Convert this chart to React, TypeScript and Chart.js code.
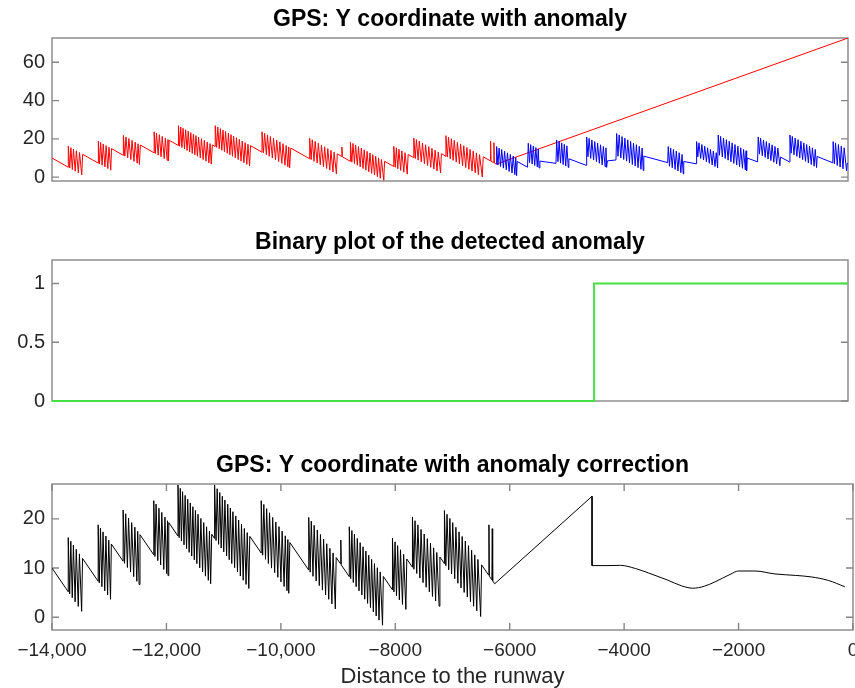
import React, { useEffect, useRef } from "react";
import { Chart, registerables } from "chart.js";

Chart.register(...registerables);

// ---------- data ----------
// GPS Y coordinate (sawtooth with jump clusters), distance in m
const gpsX = [
  -14000,
  -13716, -13716, -13691, -13671, -13646, -13626, -13596, -13576, -13541, -13521, -13482, -13466,
  -13193, -13193, -13173, -13153, -13128, -13108, -13078, -13058, -13028, -13008, -12977, -12963,
  -12757, -12757, -12732, -12712, -12682, -12662, -12627, -12607, -12572, -12552, -12517, -12502, -12478, -12462,
  -12221, -12221, -12201, -12181, -12151, -12131, -12101, -12081, -12046, -12026, -11996, -11981, -11972, -11959,
  -11798, -11798, -11778, -11758, -11738, -11718, -11693, -11673, -11648, -11628, -11603, -11583, -11558, -11538, -11513, -11493, -11468, -11448, -11418, -11398, -11368, -11348, -11318, -11298, -11268, -11248, -11227, -11208,
  -11158, -11158, -11133, -11113, -11088, -11068, -11043, -11023, -10998, -10978, -10948, -10928, -10903, -10883, -10858, -10838, -10808, -10788, -10758, -10738, -10708, -10688, -10658, -10638, -10608, -10588, -10560, -10543,
  -10343, -10343, -10318, -10298, -10268, -10248, -10218, -10198, -10163, -10143, -10108, -10088, -10053, -10033, -9998, -9978, -9943, -9923, -9893, -9878, -9862, -9843,
  -9513, -9513, -9488, -9468, -9438, -9418, -9383, -9363, -9328, -9308, -9273, -9253, -9218, -9198, -9163, -9143, -9108, -9088, -9048, -9033, -8960, -8952, -8944,
  -8804, -8804, -8779, -8759, -8734, -8714, -8684, -8664, -8634, -8614, -8584, -8564, -8534, -8514, -8484, -8464, -8434, -8414, -8384, -8364, -8334, -8314, -8284, -8264, -8223, -8209,
  -8049, -8049, -8024, -8004, -7979, -7959, -7929, -7909, -7874, -7854, -7815, -7799,
  -7700, -7700, -7675, -7655, -7625, -7605, -7570, -7550, -7515, -7495, -7460, -7440, -7405, -7385, -7350, -7330, -7295, -7275, -7234, -7220,
  -7141, -7141, -7116, -7096, -7066, -7046, -7016, -6996, -6961, -6941, -6906, -6886, -6851, -6831, -6796, -6776, -6741, -6721, -6686, -6666, -6631, -6611, -6576, -6556, -6508, -6491, -6370, -6363, -6356, -6312, -6305, -6298, -6263,
];
const gpsY = [
  10.0,
  5.17, 16.2, 4.75, 15.44, 3.98, 14.67, 3.13, 13.82, 2.2, 12.89, 1.19, 11.95,
  7.31, 18.8, 6.97, 18.12, 6.21, 17.36, 5.36, 16.51, 4.51, 15.66, 3.64, 14.89,
  11.39, 21.8, 10.97, 21.04, 10.12, 20.19, 9.18, 19.25, 8.25, 18.32, 7.31, 17.47, 6.65, 16.79,
  12.69, 23.7, 12.35, 23.02, 11.5, 22.17, 10.65, 21.32, 9.72, 20.39, 8.87, 19.62, 8.46, 19.25,
  16.51, 26.9, 16.17, 26.22, 15.49, 25.54, 14.73, 24.78, 13.96, 24.01, 13.2, 23.25, 12.43, 22.48, 11.67, 21.72, 10.9, 20.95, 10.05, 20.1, 9.2, 19.25, 8.35, 18.4, 7.5, 17.55, 6.8, 16.87,
  16.02, 26.9, 15.6, 26.14, 14.83, 25.37, 14.07, 24.61, 13.3, 23.84, 12.45, 22.99, 11.69, 22.23, 10.92, 21.46, 10.07, 20.61, 9.22, 19.76, 8.37, 18.91, 7.52, 18.06, 6.67, 17.21, 5.85, 16.45,
  13.05, 23.7, 12.63, 22.94, 11.78, 22.09, 10.93, 21.24, 9.99, 20.3, 9.06, 19.37, 8.12, 18.43, 7.19, 17.5, 6.25, 16.56, 5.4, 15.8, 4.87, 15.2,
  9.59, 20.3, 9.17, 19.54, 8.32, 18.69, 7.38, 17.75, 6.44, 16.82, 5.51, 15.88, 4.57, 14.95, 3.64, 14.01, 2.71, 13.08, 1.69, 12.14, 10.9, 15.7, 10.63,
  8.25, 18.4, 7.83, 17.64, 7.06, 16.87, 6.21, 16.02, 5.36, 15.17, 4.51, 14.32, 3.66, 13.47, 2.81, 12.62, 1.96, 11.77, 1.11, 10.92, 0.26, 10.07, -0.59, 9.22, -1.63, 8.29,
  5.57, 16.1, 5.15, 15.34, 4.38, 14.57, 3.53, 13.72, 2.6, 12.79, 1.59, 11.85,
  10.17, 20.4, 9.75, 19.64, 8.9, 18.79, 7.96, 17.85, 7.03, 16.92, 6.09, 15.98, 5.16, 15.05, 4.22, 14.11, 3.29, 13.18, 2.25, 12.24,
  10.9, 21.7, 10.48, 20.94, 9.63, 20.09, 8.78, 19.24, 7.84, 18.3, 6.91, 17.37, 5.97, 16.43, 5.04, 15.5, 4.1, 14.56, 3.17, 13.63, 2.23, 12.69, 1.3, 11.76, 0.14, 10.65, 8.59, 18.8, 8.35, 7.61, 18.0, 7.37, 6.8,
];

// true GPS signal after the anomaly starts (blue)
const trueX = [
  -6263,
  -6258, -6235, -6215, -6190, -6170, -6140, -6120, -6090, -6070, -6040, -6020, -5990, -5970, -5940, -5925, -5910,
  -5900, -5720,
  -5707, -5685, -5665, -5640, -5620, -5595, -5575, -5550, -5533, -5520,
  -5505, -5225,
  -5213, -5190, -5170, -5145, -5125, -5100, -5080, -5055, -5035, -5011,
  -5000, -4700,
  -4690, -4668, -4648, -4620, -4600, -4570, -4550, -4520, -4500, -4470, -4450, -4420, -4400, -4370, -4355, -4343,
  -4330, -4180,
  -4168, -4145, -4125, -4095, -4075, -4045, -4025, -3995, -3975, -3945, -3925, -3895, -3875, -3845, -3825, -3795, -3775, -3745, -3725, -3705,
  -3695, -3280,
  -3270, -3248, -3228, -3200, -3180, -3150, -3130, -3100, -3080, -3050, -3030, -3009,
  -3000, -2785,
  -2776, -2755, -2735, -2705, -2685, -2655, -2635, -2605, -2585, -2555, -2535, -2505, -2485, -2455, -2435, -2410,
  -2399, -2378, -2358, -2328, -2308, -2278, -2258, -2228, -2208, -2178, -2158, -2128, -2108, -2078, -2058, -2028, -2008, -1978, -1958, -1928, -1915, -1905,
  -1895, -1715,
  -1703, -1682, -1662, -1632, -1612, -1582, -1562, -1532, -1512, -1482, -1462, -1432, -1412, -1382, -1362, -1326,
  -1316, -1160,
  -1151, -1130, -1110, -1080, -1060, -1030, -1010, -980, -960, -930, -910, -880, -860, -830, -810, -780, -760, -730, -710, -687,
  -677, -405,
  -398, -377, -357, -327, -307, -277, -257, -227, -207, -166, -155, -140,
];
const trueY = [
  6.8,
  16.0, 6.32, 15.18, 5.56, 14.42, 4.71, 13.57, 3.86, 12.72, 3.01, 11.87, 2.16, 11.02, 1.31, 10.25, 0.8,
  8.2, 5.2,
  17.7, 7.63, 16.99, 6.86, 16.22, 6.1, 15.46, 5.33, 14.74, 4.82,
  8.4, 7.2,
  19.4, 8.11, 18.67, 7.34, 17.9, 6.58, 17.14, 5.81, 16.37, 5.07,
  9.6, 6.2,
  21.0, 10.63, 20.29, 9.81, 19.47, 8.96, 18.62, 8.11, 17.77, 7.26, 16.92, 6.41, 16.07, 5.56, 15.31, 5.1,
  8.5, 9.0,
  22.8, 10.91, 22.07, 10.06, 21.22, 9.21, 20.37, 8.36, 19.52, 7.51, 18.67, 6.66, 17.82, 5.81, 16.97, 4.96, 16.12, 4.11, 15.27, 3.43,
  11.0, 7.6,
  16.0, 5.73, 15.29, 4.91, 14.47, 4.06, 13.62, 3.21, 12.77, 2.36, 11.92, 1.66,
  8.2, 7.0,
  18.6, 10.64, 17.9, 9.79, 17.05, 8.94, 16.2, 8.09, 15.35, 7.24, 14.5, 6.39, 13.65, 5.54, 12.8, 4.78,
  22.0, 11.44, 21.3, 10.59, 20.45, 9.74, 19.6, 8.89, 18.75, 8.04, 17.9, 7.19, 17.05, 6.34, 16.2, 5.49, 15.35, 4.64, 14.5, 3.79, 13.77, 3.4,
  10.0, 8.0,
  21.0, 12.04, 20.3, 11.19, 19.45, 10.34, 18.6, 9.49, 17.75, 8.64, 16.9, 7.79, 16.05, 6.94, 15.2, 5.99,
  10.5, 8.0,
  22.0, 12.54, 21.3, 11.69, 20.45, 10.84, 19.6, 9.99, 18.75, 9.14, 17.9, 8.29, 17.05, 7.44, 16.2, 6.59, 15.35, 5.74, 14.5, 5.01,
  10.8, 7.5,
  18.6, 6.94, 17.9, 6.09, 17.05, 5.24, 16.2, 4.39, 15.35, 3.36, 7.2, 7.0,
];

// anomaly drift (red ramp)
const rampX = [-6263, -140];
const rampY = [6.8, 72.7];

// corrected signal after the sawtooth part
const corrLinX = [-6263, -4561, -4561];
const corrLinY = [6.8, 24.6, 10.5];
const corrX = [-4561, -4300, -4066, -3800, -3573, -3250, -3000, -2800, -2600, -2410, -2150, -2000, -1712, -1363, -1000, -730, -434, -143];
const corrY = [10.5, 10.5, 10.55, 9.9, 9.0, 7.6, 6.4, 5.9, 6.3, 7.2, 8.7, 9.4, 9.4, 8.8, 8.5, 8.2, 7.5, 6.2];

// binary detection flag
const flagX = [-14000, -4561, -4561, -140];
const flagY = [0, 0, 1, 1];

// ticks
const yTicks1 = [0, 20, 40, 60];
const yTickLabels1 = ["0", "20", "40", "60"];
const yTicks2 = [0, 0.5, 1];
const yTickLabels2 = ["0", "0.5", "1"];
const yTicks3 = [0, 10, 20];
const yTickLabels3 = ["0", "10", "20"];
const xTicks3 = [-14000, -12000, -10000, -8000, -6000, -4000, -2000, 0];
const xTickLabels3 = ["\u221214,000", "\u221212,000", "\u221210,000", "\u22128000", "\u22126000", "\u22124000", "\u22122000", "0"];

const titles = [
  "GPS: Y coordinate with anomaly",
  "Binary plot of the detected anomaly",
  "GPS: Y coordinate with anomaly correction",
];
const xAxisLabel = "Distance to the runway";

// ---------- helpers ----------
const FONT = '"Liberation Sans", Arial, Helvetica, sans-serif';
const TICK_COLOR = "#262626";
const AXIS_COLOR = "#868686";

function pts(xs: number[], ys: number[]) {
  const n = Math.min(xs.length, ys.length);
  const out: { x: number; y: number }[] = [];
  for (let i = 0; i < n; i++) out.push({ x: xs[i], y: ys[i] });
  return out;
}
function concat(...parts: { x: number; y: number }[][]) {
  return ([] as { x: number; y: number }[]).concat(...parts);
}

const boxPlugin = {
  id: "matlabBox",
  beforeDatasetsDraw(chart: any, _args: any, opts: any) {
    const { ctx, chartArea: a } = chart;
    ctx.save();
    ctx.strokeStyle = AXIS_COLOR;
    ctx.lineWidth = 1.4;
    ctx.strokeRect(a.left, a.top, a.right - a.left, a.bottom - a.top);
    const L = 7;
    const ys = chart.scales.y;
    ctx.beginPath();
    for (const v of opts.yTicks || []) {
      const py = ys.getPixelForValue(v);
      ctx.moveTo(a.left, py);
      ctx.lineTo(a.left + L, py);
      ctx.moveTo(a.right, py);
      ctx.lineTo(a.right - L, py);
    }
    if (opts.xTicks) {
      const xs = chart.scales.x;
      for (const v of opts.xTicks) {
        const px = xs.getPixelForValue(v);
        ctx.moveTo(px, a.bottom);
        ctx.lineTo(px, a.bottom - L);
        ctx.moveTo(px, a.top);
        ctx.lineTo(px, a.top + L);
      }
    }
    ctx.stroke();
    ctx.restore();
  },
  afterDraw(chart: any, _args: any, opts: any) {
    const { ctx, chartArea: a } = chart;
    ctx.save();
    ctx.font = `bold ${opts.titleSize}px ${FONT}`;
    ctx.fillStyle = "#000000";
    ctx.textAlign = "center";
    ctx.textBaseline = "middle";
    ctx.fillText(opts.title, (a.left + a.right) / 2, opts.titleY);
    ctx.restore();
  },
};

function yScale(min: number, max: number, ticks: number[], labels: string[]) {
  return {
    type: "linear",
    min,
    max,
    afterBuildTicks: (s: any) => {
      s.ticks = ticks.map((v) => ({ value: v }));
    },
    afterFit: (s: any) => {
      s.width = 52;
    },
    grid: { display: false, drawTicks: false },
    border: { display: false },
    ticks: {
      color: TICK_COLOR,
      font: { family: FONT, size: 20 },
      padding: 7,
      autoSkip: false,
      callback: (_v: any, i: number) => labels[i],
    },
  };
}

function useChart(ref: React.RefObject<HTMLCanvasElement>, build: () => any) {
  useEffect(() => {
    if (!ref.current) return;
    const chart = new Chart(ref.current, build());
    return () => chart.destroy();
  }, []);
}

const baseOpts = {
  animation: false,
  responsive: false,
  maintainAspectRatio: false,
  devicePixelRatio: 1,
  events: [],
  elements: { point: { radius: 0 }, line: { borderWidth: 1, tension: 0 } },
};

const TITLE_SIZE = 23;

export default function App() {
  const c1 = useRef<HTMLCanvasElement>(null);
  const c2 = useRef<HTMLCanvasElement>(null);
  const c3 = useRef<HTMLCanvasElement>(null);

  useChart(c1, () => ({
    type: "line",
    data: {
      datasets: [
        { data: pts(trueX, trueY), borderColor: "#0000ff", borderWidth: 1, pointRadius: 0 },
        { data: concat(pts(gpsX, gpsY), pts(rampX, rampY)), borderColor: "#ff0000", borderWidth: 1, pointRadius: 0 },
      ],
    },
    options: {
      ...baseOpts,
      layout: { padding: { left: 0, right: 52, top: 38, bottom: 14 } },
      plugins: {
        legend: { display: false },
        tooltip: { enabled: false },
        matlabBox: { yTicks: yTicks1, title: titles[0], titleY: 20, titleSize: TITLE_SIZE },
      },
      scales: {
        x: { type: "linear", min: -14000, max: -140, display: false },
        y: yScale(-2, 72.7, yTicks1, yTickLabels1),
      },
    },
    plugins: [boxPlugin],
  }));

  useChart(c2, () => ({
    type: "line",
    data: {
      datasets: [
        { data: pts(flagX, flagY), borderColor: "#44e044", borderWidth: 2, pointRadius: 0, clip: 4 },
      ],
    },
    options: {
      ...baseOpts,
      layout: { padding: { left: 0, right: 52, top: 40, bottom: 12 } },
      plugins: {
        legend: { display: false },
        tooltip: { enabled: false },
        matlabBox: { yTicks: yTicks2, title: titles[1], titleY: 23, titleSize: TITLE_SIZE },
      },
      scales: {
        x: { type: "linear", min: -14000, max: -140, display: false },
        y: yScale(0, 1.2, yTicks2, yTickLabels2),
      },
    },
    plugins: [boxPlugin],
  }));

  useChart(c3, () => ({
    type: "line",
    data: {
      datasets: [
        { data: concat(pts(gpsX, gpsY), pts(corrLinX, corrLinY)), borderColor: "#000000", borderWidth: 1, pointRadius: 0 },
        { data: pts(corrX, corrY), borderColor: "#000000", borderWidth: 1, pointRadius: 0, cubicInterpolationMode: "monotone" },
      ],
    },
    options: {
      ...baseOpts,
      layout: { padding: { left: 0, right: 47, top: 44, bottom: 0 } },
      plugins: {
        legend: { display: false },
        tooltip: { enabled: false },
        matlabBox: { yTicks: yTicks3, xTicks: xTicks3, title: titles[2], titleY: 26, titleSize: TITLE_SIZE },
      },
      scales: {
        x: {
          type: "linear",
          min: -14000,
          max: 0,
          afterBuildTicks: (s: any) => {
            s.ticks = xTicks3.map((v) => ({ value: v }));
          },
          afterFit: (s: any) => {
            s.height = 58;
          },
          grid: { display: false, drawTicks: false },
          border: { display: false },
          ticks: {
            color: TICK_COLOR,
            font: { family: FONT, size: 19 },
            padding: 9,
            maxRotation: 0,
            autoSkip: false,
            callback: (_v: any, i: number) => xTickLabels3[i],
          },
          title: {
            display: true,
            text: xAxisLabel,
            color: TICK_COLOR,
            font: { family: FONT, size: 22, lineHeight: 1 },
            padding: { top: 0, bottom: 0 },
          },
        },
        y: yScale(-2.6, 27.1, yTicks3, yTickLabels3),
      },
    },
    plugins: [boxPlugin],
  }));

  const cv = (top: number, h: number): React.CSSProperties => ({
    position: "absolute",
    left: 0,
    top,
    width: 900,
    height: h,
  });

  return (
    <div
      style={{
        position: "fixed",
        left: 0,
        top: 0,
        width: 855,
        height: 688,
        overflow: "hidden",
        background: "#ffffff",
      }}
    >
      <canvas ref={c1} width={900} height={200} style={cv(0, 200)} />
      <canvas ref={c2} width={900} height={200} style={cv(220, 200)} />
      <canvas ref={c3} width={900} height={248} style={cv(440, 248)} />
    </div>
  );
}
